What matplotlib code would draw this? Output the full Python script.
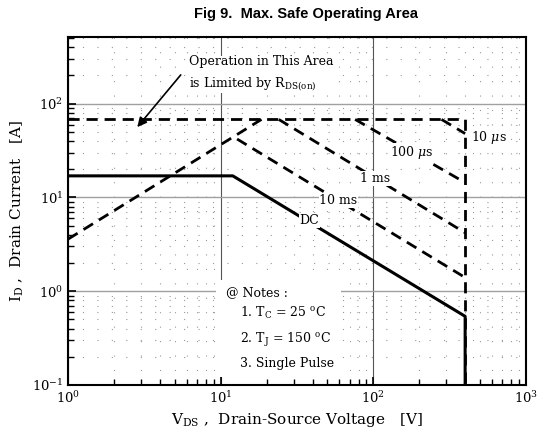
import matplotlib
matplotlib.use("Agg")
import matplotlib.pyplot as plt
from matplotlib.patches import Rectangle

# values (V in volts, I in amps)
rds_v = [1, 18.5]
rds_i = [3.6, 68]
limit_v = [1, 400, 400]
limit_i = [68, 68, 0.1]
t10us_v = [280, 400]
t10us_i = [68, 48]
t100us_v = [76, 400]
t100us_i = [68, 14.4]
t1ms_v = [24, 400]
t1ms_i = [68, 4.2]
t10ms_v = [12.8, 400]
t10ms_i = [42, 1.4]
dc_v = [1, 12, 400, 400]
dc_i = [17, 17, 0.54, 0.1]

pulse_labels = ["10 $\\mu$s", "100 $\\mu$s", "1 ms", "10 ms", "DC"]
label_v = [570, 180, 103, 59, 38]
label_i = [44, 30, 16, 9.3, 5.7]

notes = ["@ Notes :", "1. T$_\\mathregular{C}$ = 25 $^\\mathregular{o}$C",
         "2. T$_\\mathregular{J}$ = 150 $^\\mathregular{o}$C", "3. Single Pulse"]


def main():
    plt.rcParams['font.family'] = 'DejaVu Serif'
    plt.rcParams['mathtext.fontset'] = 'dejavuserif'

    fig = plt.figure(figsize=(5.41, 4.40), dpi=100)
    ax = fig.add_axes([0.126, 0.125, 0.846, 0.791])

    ax.set_xscale('log')
    ax.set_yscale('log')
    ax.set_xlim(1, 1000)
    ax.set_ylim(0.1, 515)

    ax.grid(which='major', axis='y', color='#a0a0a0', linewidth=1.0, linestyle='-')
    ax.grid(which='major', axis='x', color='#555555', linewidth=0.8, linestyle='-')
    ax.grid(which='minor', color='#999999', linewidth=0.8, linestyle=(0, (1, 12)))

    dash = (0, (4, 2.5))
    ax.plot(rds_v, rds_i, color='black', lw=2, linestyle=dash)
    ax.plot(limit_v, limit_i, color='black', lw=2, linestyle=dash)
    ax.plot(t10us_v, t10us_i, color='black', lw=2, linestyle=dash)
    ax.plot(t100us_v, t100us_i, color='black', lw=2, linestyle=dash)
    ax.plot(t1ms_v, t1ms_i, color='black', lw=2, linestyle=dash)
    ax.plot(t10ms_v, t10ms_i, color='black', lw=2, linestyle=dash)
    ax.plot(dc_v, dc_i, color='black', lw=2.2, linestyle='-')

    for lab, v, i in zip(pulse_labels, label_v, label_i):
        ax.text(v, i, lab, fontsize=9, ha='center', va='center',
                bbox=dict(facecolor='white', edgecolor='none', pad=0.5))

    ax.text(0.263, 0.895, "Operation in This Area\nis Limited by R$_{\\mathregular{DS(on)}}$",
            transform=ax.transAxes, fontsize=9, ha='left', va='center',
            linespacing=1.6, bbox=dict(facecolor='white', edgecolor='none', pad=1))
    ax.annotate("", xy=(0.151, 0.741), xycoords='axes fraction',
                xytext=(0.246, 0.891), textcoords='axes fraction',
                arrowprops=dict(arrowstyle='-|>', color='black', lw=1.2,
                                shrinkA=0, shrinkB=0, mutation_scale=14))

    ax.add_patch(Rectangle((0.323, 0.023), 0.274, 0.28, transform=ax.transAxes,
                           facecolor='white', edgecolor='none', zorder=3))
    ax.text(0.345, 0.264, notes[0], transform=ax.transAxes, fontsize=9,
            va='center', zorder=4)
    for k, y in enumerate([0.207, 0.129, 0.063]):
        ax.text(0.375, y, notes[k + 1], transform=ax.transAxes, fontsize=9,
                va='center', zorder=4)

    ax.tick_params(which='both', direction='in', top=False, right=False,
                   labelsize=9.5)
    ax.tick_params(which='major', length=6, width=1.2)
    ax.tick_params(which='minor', length=4, width=1)
    for s in ax.spines.values():
        s.set_linewidth(1.5)

    ax.set_xlabel("V$_{\\mathregular{DS}}$ ,  Drain-Source Voltage   [V]", fontsize=11)
    ax.set_ylabel("I$_{\\mathregular{D}}$ ,  Drain Current   [A]", fontsize=11)
    fig.suptitle("Fig 9.  Max. Safe Operating Area", x=0.565, y=0.985,
                 fontsize=10.5, fontweight='bold', family='Liberation Sans')

    plt.savefig("out.png", dpi=100)
    plt.close()


if __name__ == "__main__":
    main()
